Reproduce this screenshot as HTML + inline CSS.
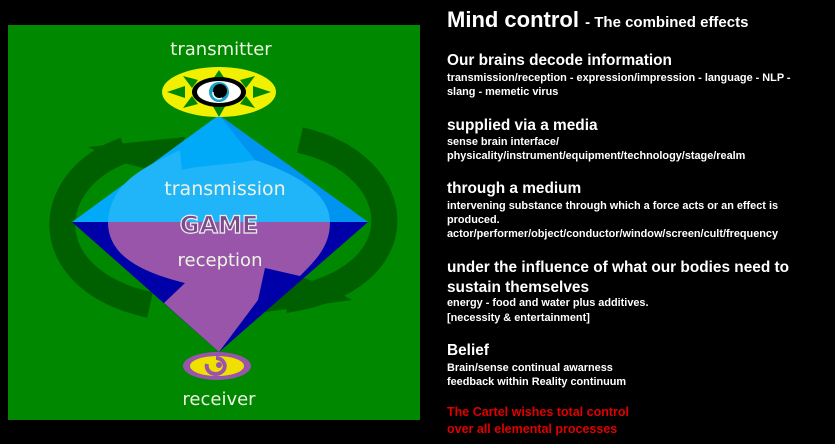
<!DOCTYPE html>
<html><head><meta charset="utf-8"><style>
html,body{margin:0;padding:0;background:#000;}
body{width:835px;height:444px;position:relative;overflow:hidden;font-family:"Liberation Sans",Arial,sans-serif;color:#fff;font-weight:bold;}
.t{position:absolute;left:447px;white-space:nowrap;}
.h{font-size:15.4px;}
.s{font-size:10.9px;}
</style></head><body>
<svg width="835" height="444" style="position:absolute;left:0;top:0">
<rect x="8" y="25" width="412" height="395" fill="#008800"/>
<path d="M125,150 C40,180 35,280 150,305" fill="none" stroke="#006000" stroke-width="26"/>
<polygon points="88,147 185,137 170,175 120,162" fill="#006000"/>
<path d="M300,140 C410,165 420,280 285,300" fill="none" stroke="#006000" stroke-width="26"/>
<polygon points="352,300 265,312 285,272 325,285" fill="#006000"/>
<polygon points="219,115 72,222 368,222" fill="#00aaf8"/>
<polygon points="219,115 368,222 290,222 255,160" fill="#0094f0"/>
<path d="M108,222 C110,180 150,165 180,150 L182,170 C200,165 230,165 255,160 C300,175 330,195 330,222 Z" fill="#20b4f8"/>
<polygon points="72,222 368,222 219,352" fill="#0000a8"/>
<path d="M108,222 L330,222 C330,245 318,258 300,276 L265,268 L258,300 L219,352 L164,303 L185,283 C140,272 108,255 108,222 Z" fill="#9955aa"/>
<ellipse cx="219" cy="92" rx="57" ry="25" fill="#f0f000"/>
<g fill="#008800">
<polygon points="219,70 211,82 227,82"/>
<polygon points="219,117 211,103 227,103"/>
<polygon points="167,92 185,86 185,98"/>
<polygon points="271,92 253,86 253,98"/>
<polygon points="183,76 198,80 192,88"/>
<polygon points="255,76 240,80 246,88"/>
<polygon points="183,108 198,104 192,96"/>
<polygon points="255,108 240,104 246,96"/>
</g>
<ellipse cx="219" cy="92" rx="27" ry="15" fill="#000"/>
<ellipse cx="219" cy="92" rx="22" ry="11" fill="#fff"/>
<circle cx="219" cy="92" r="10" fill="#1aa0c0"/>
<circle cx="220" cy="91" r="7" fill="#000"/>
<path d="M213,92 A6,6 0 0 0 222,98" stroke="#fff" stroke-width="1.5" fill="none"/>
<ellipse cx="217" cy="366" rx="34" ry="14" fill="#9955aa"/>
<ellipse cx="217" cy="366" rx="27" ry="10" fill="#f0e000"/>
<path d="M207,364 A9,8 0 1 0 216,358" stroke="#9955aa" stroke-width="4" fill="none"/>
<circle cx="219" cy="365" r="3" fill="#9955aa"/>
<g font-family="DejaVu Sans,Verdana,sans-serif" text-anchor="middle" fill="#eef4e4" font-weight="normal">
<text x="221" y="55" font-size="18">transmitter</text>
<text x="225" y="195" font-size="19">transmission</text>
<text x="220" y="266" font-size="18">reception</text>
<text x="219" y="405" font-size="18">receiver</text>
<text x="219" y="233" font-size="24" font-weight="bold" fill="#7a4a8a" stroke="#eee" stroke-width="1.2">GAME</text>
</g>
</svg>
<div class="t" style="top:7px;font-size:22px">Mind control <span style="font-size:15px">- The combined effects</span></div>
<div class="t h" style="top:52px">Our brains decode information</div>
<div class="t s" style="top:72px">transmission/reception - expression/impression - language - NLP -</div>
<div class="t s" style="top:86px">slang - memetic virus</div>
<div class="t h" style="top:117px">supplied via a media</div>
<div class="t s" style="top:136px">sense brain interface/</div>
<div class="t s" style="top:150px">physicality/instrument/equipment/technology/stage/realm</div>
<div class="t h" style="top:180px">through a medium</div>
<div class="t s" style="top:200px">intervening substance through which a force acts or an effect is</div>
<div class="t s" style="top:214px">produced.</div>
<div class="t s" style="top:228px">actor/performer/object/conductor/window/screen/cult/frequency</div>
<div class="t h" style="top:259px">under the influence of what our bodies need to</div>
<div class="t h" style="top:279px">sustain themselves</div>
<div class="t s" style="top:297px">energy - food and water plus additives.</div>
<div class="t s" style="top:312px">[necessity &amp; entertainment]</div>
<div class="t h" style="top:342px">Belief</div>
<div class="t s" style="top:362px">Brain/sense continual awarness</div>
<div class="t s" style="top:376px">feedback within Reality continuum</div>
<div class="t" style="top:405px;font-size:12.5px;color:#e00000">The Cartel wishes total control</div>
<div class="t" style="top:422px;font-size:12.5px;color:#e00000">over all elemental processes</div>
</body></html>
